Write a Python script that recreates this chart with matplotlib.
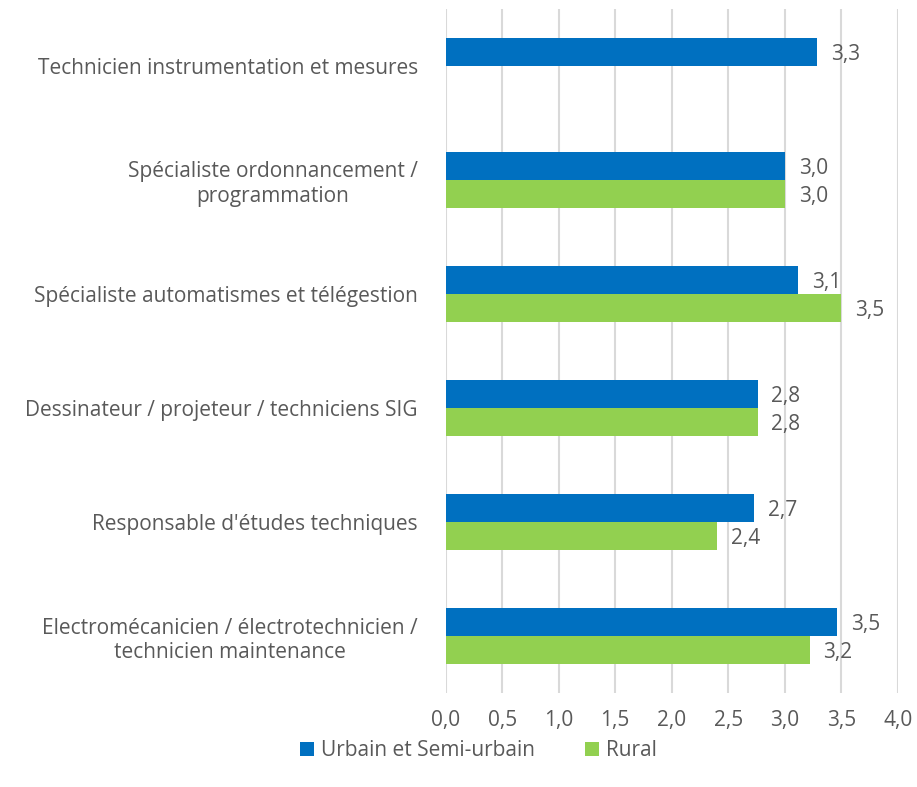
import numpy as np
import matplotlib
matplotlib.use("Agg")
import matplotlib.pyplot as plt

plt.rcParams["font.family"] = ["Open Sans", "DejaVu Sans"]

categories = [
    "Technicien instrumentation et mesures",
    "Spécialiste ordonnancement /\nprogrammation",
    "Spécialiste automatismes et télégestion",
    "Dessinateur / projeteur / techniciens SIG",
    "Responsable d'études techniques",
    "Electromécanicien / électrotechnicien /\ntechnicien maintenance",
]
urbain = [3.29, 3.0, 3.12, 2.76, 2.73, 3.46]
rural = [np.nan, 3.0, 3.5, 2.76, 2.40, 3.22]
series_names = ["Urbain et Semi-urbain", "Rural"]
xticks = [0.0, 0.5, 1.0, 1.5, 2.0, 2.5, 3.0, 3.5, 4.0]

BLUE, GREEN, TXT, GRID = "#0070C0", "#92D050", "#595959", "#D9D9D9"
FS = 15

fig = plt.figure(figsize=(9.17, 7.87), dpi=100)
ax = fig.add_axes([0.486, 0.1194, 0.493, 0.8692])

y = np.arange(len(categories))
h = 0.246
b1 = ax.barh(y - h / 2, urbain, height=h, color=BLUE, label=series_names[0], zorder=3)
b2 = ax.barh(y + h / 2, rural, height=h, color=GREEN, label=series_names[1], zorder=3)

for yy, v in zip(y - h / 2, urbain):
    ax.annotate(f"{v:.1f}".replace(".", ","), (v, yy), xytext=(10, -2),
                textcoords="offset points", va="center", ha="left",
                fontsize=FS, color=TXT)
for yy, v in zip(y + h / 2, rural):
    if np.isnan(v):
        continue
    ax.annotate(f"{v:.1f}".replace(".", ","), (v, yy), xytext=(10, -2),
                textcoords="offset points", va="center", ha="left",
                fontsize=FS, color=TXT)

ax.set_xlim(0, 4.0)
ax.set_ylim(len(categories) - 0.5, -0.5)
ax.set_xticks(xticks)
ax.set_xticklabels([f"{t:.1f}".replace(".", ",") for t in xticks], fontsize=FS, color=TXT)
ax.set_yticks(y)
ax.set_yticklabels(categories, fontsize=FS, color=TXT, multialignment="center")
ax.tick_params(axis="both", length=0)
ax.tick_params(axis="y", pad=20)
ax.tick_params(axis="x", pad=12)
ax.grid(axis="x", color=GRID, linewidth=1.5, zorder=0)
for s in ax.spines.values():
    s.set_visible(False)

fig.legend(handles=[b1, b2], loc="center", bbox_to_anchor=(0.522, 0.046), ncol=2,
           frameon=False, fontsize=FS, handlelength=0.65, handleheight=0.65,
           handletextpad=0.35, columnspacing=2.4, labelcolor=TXT)

fig.savefig("out.png", dpi=100)
